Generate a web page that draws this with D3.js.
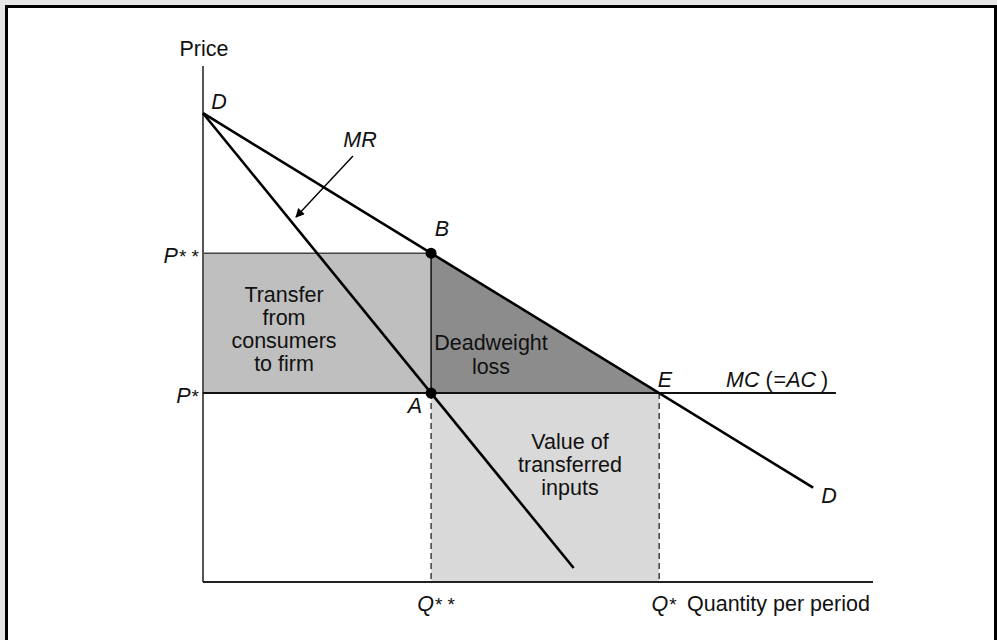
<!DOCTYPE html>
<html>
<head>
<meta charset="utf-8">
<script src="https://cdn.jsdelivr.net/npm/d3@7/dist/d3.min.js"></script>
<style>
  html, body { margin: 0; padding: 0; background: #e6e6e6; }
  svg { display: block; }
  text { font-family: "Liberation Sans", Arial, Helvetica, sans-serif; fill: #111; }
</style>
</head>
<body>
<svg id="chart" width="997" height="640"></svg>
<script>
// Monopoly welfare diagram: linear demand, marginal revenue, constant MC (=AC)
const qMonopoly = 4;        // Q**
const qCompetitive = 8;     // Q*
const pMonopoly = 9.4;      // P**
const pCompetitive = 5.4;   // P* (= MC = AC)
const demandPts = [[0, 13.4], [10.7, 2.7]];
const mrPts = [[0, 13.4], [6.5, 0.4]];
const mcEndQ = 11.1;
const axisMax = { q: 11.75, p: 14.75 };

const priceTickLabels = [
  { p: pMonopoly, main: "P", sup: "* *" },
  { p: pCompetitive, main: "P", sup: "*" }
];
const quantityTickLabels = [
  { q: qMonopoly, main: "Q", sup: "* *" },
  { q: qCompetitive, main: "Q", sup: "*" }
];
const transferLines = ["Transfer", "from", "consumers", "to firm"];
const deadweightLines = ["Deadweight", "loss"];
const inputsLines = ["Value of", "transferred", "inputs"];

const svg = d3.select("#chart");

// page frame
svg.append("rect").attr("x", 5).attr("y", 5).attr("width", 992).attr("height", 700).attr("fill", "#fff");
svg.append("rect").attr("x", 6.5).attr("y", 6.5).attr("width", 989).attr("height", 700)
  .attr("fill", "none").attr("stroke", "#000").attr("stroke-width", 3);

const x = d3.scaleLinear().domain([0, axisMax.q]).range([203, 873]);
const y = d3.scaleLinear().domain([0, axisMax.p]).range([582, 66]);
const line = d3.line().x(d => x(d[0])).y(d => y(d[1]));

// shaded areas
svg.append("rect")
  .attr("x", x(0)).attr("y", y(pMonopoly))
  .attr("width", x(qMonopoly) - x(0)).attr("height", y(pCompetitive) - y(pMonopoly))
  .attr("fill", "#bfbfbf");
svg.append("path")
  .attr("d", line([[qMonopoly, pMonopoly], [qCompetitive, pCompetitive], [qMonopoly, pCompetitive]]) + "Z")
  .attr("fill", "#8c8c8c");
svg.append("rect")
  .attr("x", x(qMonopoly)).attr("y", y(pCompetitive))
  .attr("width", x(qCompetitive) - x(qMonopoly)).attr("height", y(0) - y(pCompetitive))
  .attr("fill", "#d9d9d9");

// top edge of the transfer rectangle
svg.append("path").attr("d", line([[0, pMonopoly], [qMonopoly, pMonopoly]]))
  .attr("stroke", "#444").attr("stroke-width", 1.5).attr("fill", "none");
// B to A
svg.append("path").attr("d", line([[qMonopoly, pMonopoly], [qMonopoly, pCompetitive]]))
  .attr("stroke", "#111").attr("stroke-width", 1.5).attr("fill", "none");
// dashed drop lines
[qMonopoly, qCompetitive].forEach(q => {
  svg.append("path").attr("d", line([[q, pCompetitive], [q, 0]]))
    .attr("stroke", "#222").attr("stroke-width", 1.3).attr("stroke-dasharray", "6,4").attr("fill", "none");
});

// axes (plain lines, no ticks)
svg.append("path").attr("d", line([[0, axisMax.p], [0, 0]]))
  .attr("stroke", "#555").attr("stroke-width", 2).attr("fill", "none");
svg.append("path").attr("d", line([[0, 0], [axisMax.q, 0]]))
  .attr("stroke", "#222").attr("stroke-width", 2).attr("fill", "none");

// MC (=AC)
svg.append("path").attr("d", line([[0, pCompetitive], [mcEndQ, pCompetitive]]))
  .attr("stroke", "#111").attr("stroke-width", 2).attr("fill", "none");
// demand and MR
svg.append("path").attr("d", line(demandPts))
  .attr("stroke", "#000").attr("stroke-width", 2.6).attr("fill", "none");
svg.append("path").attr("d", line(mrPts))
  .attr("stroke", "#000").attr("stroke-width", 2.6).attr("fill", "none");

// points B and A
[[qMonopoly, pMonopoly], [qMonopoly, pCompetitive]].forEach(d => {
  svg.append("circle").attr("cx", x(d[0])).attr("cy", y(d[1])).attr("r", 5.5).attr("fill", "#000");
});

// MR pointer
const defs = svg.append("defs");
defs.append("marker").attr("id", "arrow").attr("viewBox", "0 0 10 10")
  .attr("refX", 9).attr("refY", 5).attr("markerWidth", 11).attr("markerHeight", 9)
  .attr("markerUnits", "userSpaceOnUse").attr("orient", "auto")
  .append("path").attr("d", "M0,0 L10,5 L0,10 Z").attr("fill", "#000");
svg.append("line").attr("x1", 353).attr("y1", 156).attr("x2", 296).attr("y2", 217)
  .attr("stroke", "#000").attr("stroke-width", 1.4).attr("marker-end", "url(#arrow)");

// labels
const fs = 21.5;
function label(tx, ty, parts, anchor) {
  const t = svg.append("text").attr("x", tx).attr("y", ty).attr("font-size", fs)
    .attr("text-anchor", anchor || "start");
  parts.forEach(p => {
    const s = t.append("tspan").text(p.t);
    if (p.i) s.attr("font-style", "italic");
    if (p.dx) s.attr("dx", p.dx);
    if (p.fs) s.attr("font-size", p.fs);
  });
  return t;
}

label(204, 56, [{ t: "Price" }], "middle");
label(219, 109, [{ t: "D", i: true }], "middle");
label(360, 147, [{ t: "MR", i: true }], "middle");
label(442, 236, [{ t: "B", i: true }], "middle");
label(415, 413, [{ t: "A", i: true }], "middle");
label(665, 387, [{ t: "E", i: true }], "middle");
label(726, 387, [{ t: "MC", i: true }, { t: " (" }, { t: "=", dx: 1 }, { t: "AC", i: true }, { t: ")", dx: 5 }]);
label(x(demandPts[1][0]) + 16, 503, [{ t: "D", i: true }], "middle");

priceTickLabels.forEach(d => {
  label(199, y(d.p) + 10, [{ t: d.main, i: true }, { t: d.sup, fs: 19, dx: 1 }], "end");
});
quantityTickLabels.forEach(d => {
  label(x(d.q) + 5, 611, [{ t: d.main, i: true }, { t: d.sup, fs: 19, dx: 1 }], "middle");
});
label(687, 611, [{ t: "Quantity per period" }]);

function block(lines, cx, firstBaseline, step) {
  const t = svg.append("text").attr("font-size", fs).attr("text-anchor", "middle");
  lines.forEach((s, i) => {
    t.append("tspan").attr("x", cx).attr("y", firstBaseline + i * step).text(s);
  });
}
block(transferLines, 284, 302, 23);
block(deadweightLines, 491, 350, 24);
block(inputsLines, 570, 449, 23);
</script>
</body>
</html>
